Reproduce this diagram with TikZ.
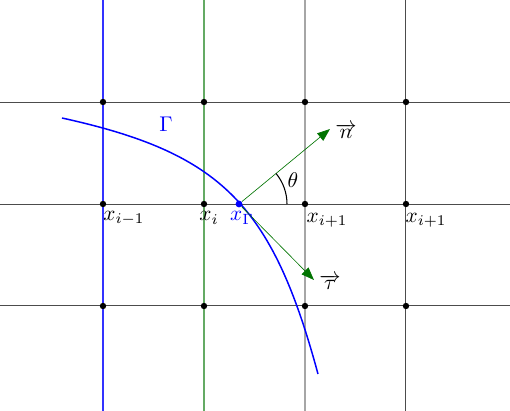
\documentclass[tikz,border=0pt]{standalone}
\usetikzlibrary{arrows.meta}
\definecolor{softgreen}{RGB}{100,170,100}
\begin{document}
\begin{tikzpicture}[x=0.47pt,y=-0.47pt,
  hline/.style={black!70,line width=0.47pt},
  dot/.style={circle,fill=black,inner sep=0pt,minimum size=3pt},
  vec/.style={green!45!black,line width=0.3pt,-{Triangle[length=6pt,width=4.5pt]}},
  lbl/.style={inner sep=0pt}]
\useasboundingbox (0,0) rectangle (510,411);
% vertical lines
\draw[blue!80,line width=0.5pt] (103,0) -- (103,411);
\draw[softgreen,line width=0.5pt] (204,0) -- (204,411);
\draw[black!35,line width=0.8pt] (305,0) -- (305,411);
\draw[black!70,line width=0.47pt] (406,0) -- (406,411);
% horizontal lines
\foreach \y in {102,204,306} \draw[hline] (0,\y) -- (510,\y);
% dots
\foreach \x/\i in {103/1,204/2,305/3,406/4}
  \foreach \y/\j in {102/a,204/b,306/c}
    \node[dot] (p\i\j) at (\x,\y) {};
% curve
\draw[blue,line width=0.7pt] (62,118) .. controls (221,153) and (272,204) .. (318,374);
\node[dot,fill=blue,minimum size=3.2pt] (xG) at (239,204) {};
% vectors
\coordinate (n) at (330,129);
\coordinate (t) at (314,280);
\draw[vec] (xG) -- (n);
\draw[vec] (xG) -- (t);
% angle
\draw[black,line width=0.5pt] (287,204) arc[start angle=0,end angle=-39.5,radius=48];
% labels
\node[lbl] (theta) at (293,180) {$\theta$};
\node[lbl] (nl) at (346,131) {$\overrightarrow{n}$};
\node[lbl] (tl) at (330,282) {$\overrightarrow{\tau}$};
\node[lbl,text=blue] (Gl) at (166,124) {$\Gamma$};
\node[lbl] (l1) at (124,218) {$x_{i-1}$};
\node[lbl] (l2) at (209,218) {$x_i$};
\node[lbl,text=blue] (l3) at (242,218) {$x_\Gamma$};
\node[lbl] (l4) at (327,220) {$x_{i+1}$};
\node[lbl] (l5) at (426,220) {$x_{i+1}$};
\end{tikzpicture}
\end{document}
